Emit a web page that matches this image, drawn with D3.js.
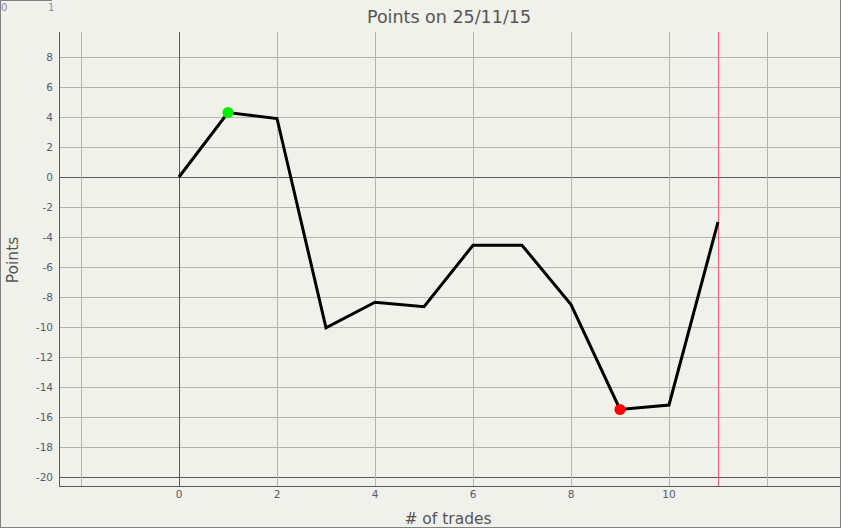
<!DOCTYPE html>
<html>
<head>
<meta charset="utf-8">
<script src="https://cdn.jsdelivr.net/npm/d3@7"></script>
<style>
  html, body { margin: 0; padding: 0; background: #f1f1ec; }
  text { font-family: Tahoma, "DejaVu Sans", sans-serif; }
</style>
</head>
<body>
<script>
// ---- data ----
var trades = [0, 1, 2, 3, 4, 5, 6, 7, 8, 9, 10, 11];
var points = [0, 4.3, 3.9, -10.05, -8.35, -8.65, -4.55, -4.55, -8.5, -15.5, -15.2, -3.0];
var xTicks = [0, 2, 4, 6, 8, 10];
var yTicks = [8, 6, 4, 2, 0, -2, -4, -6, -8, -10, -12, -14, -16, -18, -20];
var xGrid = [-2, 0, 2, 4, 6, 8, 10, 12];
var markerLine = 11;
var title = "Points on 25/11/15";

var width = 841, height = 528;
var plotLeft = 59, plotTop = 32, plotRight = 840, plotBottom = 486;

var svg = d3.select("body").append("svg")
  .attr("width", width)
  .attr("height", height)
  .style("display", "block");

// frame
svg.append("rect").attr("x", 0).attr("y", 0).attr("width", width).attr("height", height)
  .attr("fill", "#f1f1ec");
svg.append("line").attr("x1", 0.5).attr("x2", 0.5).attr("y1", 0).attr("y2", 528).attr("stroke", "#808080");
svg.append("line").attr("x1", 840.5).attr("x2", 840.5).attr("y1", 0).attr("y2", 528).attr("stroke", "#808080");
svg.append("line").attr("x1", 0).attr("x2", 841).attr("y1", 527.5).attr("y2", 527.5).attr("stroke", "#808080");
svg.append("line").attr("x1", 0).attr("x2", 52).attr("y1", 0.5).attr("y2", 0.5).attr("stroke", "#808080");

// stray labels at top-left
svg.append("text").attr("x", 1).attr("y", 11).attr("font-size", 10).attr("fill", "#8a88a8").text("0");
svg.append("text").attr("x", 48).attr("y", 11).attr("font-size", 10).attr("fill", "#8a88a8").text("1");

var x = d3.scaleLinear().domain([0, 10]).range([179, 669]);
var y = d3.scaleLinear().domain([0, 8]).range([177, 57]);

var g = svg.append("g");

// horizontal grid
g.selectAll(".hg").data(yTicks).enter().append("line")
  .attr("x1", plotLeft).attr("x2", plotRight)
  .attr("y1", function(d) { return Math.round(y(d)) + 0.5; })
  .attr("y2", function(d) { return Math.round(y(d)) + 0.5; })
  .attr("stroke", function(d) { return (d === 0 || d === -20) ? "#5a5a5a" : "#b5b5b0"; });

// vertical grid
g.selectAll(".vg").data(xGrid).enter().append("line")
  .attr("y1", plotTop).attr("y2", plotBottom)
  .attr("x1", function(d) { return Math.round(x(d)) + 0.5; })
  .attr("x2", function(d) { return Math.round(x(d)) + 0.5; })
  .attr("stroke", function(d) { return d === 0 ? "#5a5a5a" : "#b5b5b0"; });

// axes lines
g.append("line").attr("x1", plotLeft + 0.5).attr("x2", plotLeft + 0.5).attr("y1", plotTop).attr("y2", plotBottom + 1).attr("stroke", "#5a5a5a");
g.append("line").attr("x1", plotLeft).attr("x2", plotRight).attr("y1", plotBottom + 0.5).attr("y2", plotBottom + 0.5).attr("stroke", "#5a5a5a");

// tick labels
g.selectAll(".yl").data(yTicks).enter().append("text")
  .attr("x", 53).attr("y", function(d) { return y(d) + 4; })
  .attr("text-anchor", "end").attr("font-size", 10.5).attr("fill", "#555a70")
  .text(function(d) { return d; });
g.selectAll(".xl").data(xTicks).enter().append("text")
  .attr("x", function(d) { return x(d); }).attr("y", 498)
  .attr("text-anchor", "middle").attr("font-size", 10.5).attr("fill", "#555a70")
  .text(function(d) { return d; });

// red marker line
g.append("line")
  .attr("x1", Math.round(x(markerLine)) + 0.5).attr("x2", Math.round(x(markerLine)) + 0.5)
  .attr("y1", plotTop).attr("y2", plotBottom)
  .attr("stroke", "#ff5a6e");

// series line
var line = d3.line()
  .x(function(d, i) { return x(trades[i]); })
  .y(function(d) { return y(d); });
g.append("path").datum(points)
  .attr("d", line).attr("fill", "none")
  .attr("stroke", "#000").attr("stroke-width", 3).attr("stroke-linejoin", "miter");

// max / min markers
var maxI = d3.maxIndex(points), minI = d3.minIndex(points);
g.append("circle").attr("cx", x(trades[maxI])).attr("cy", y(points[maxI])).attr("r", 5.5).attr("fill", "#00ee00");
g.append("circle").attr("cx", x(trades[minI])).attr("cy", y(points[minI])).attr("r", 5.5).attr("fill", "#ff0000");

// titles
svg.append("text").attr("x", 449).attr("y", 23).attr("text-anchor", "middle")
  .attr("font-size", 17.5).attr("fill", "#555555").text(title);
svg.append("text").attr("x", 448).attr("y", 524).attr("text-anchor", "middle")
  .attr("font-size", 15.5).attr("fill", "#555555").text("# of trades");
svg.append("text").attr("transform", "translate(18,260) rotate(-90)").attr("text-anchor", "middle")
  .attr("font-size", 15.5).attr("fill", "#555555").text("Points");
</script>
</body>
</html>
